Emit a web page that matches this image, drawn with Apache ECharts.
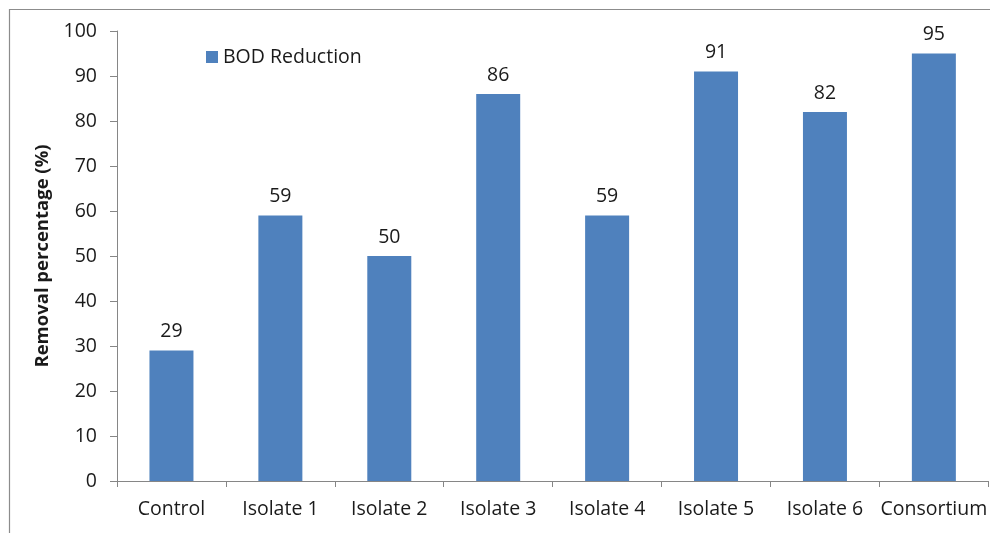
<!DOCTYPE html>
<html>
<head>
<meta charset="utf-8">
<script src="https://cdn.jsdelivr.net/npm/echarts@6/dist/echarts.min.js"></script>
<style>
  html, body { margin: 0; padding: 0; background: #fff; }
  #chart { width: 990px; height: 533px; }
</style>
</head>
<body>
<div id="chart"></div>
<script>
// Categories and BOD removal percentages
const categories = ['Control', 'Isolate 1', 'Isolate 2', 'Isolate 3', 'Isolate 4', 'Isolate 5', 'Isolate 6', 'Consortium'];
const bodReduction = [29, 59, 50, 86, 59, 91, 82, 95];
const seriesName = 'BOD Reduction';
const yAxisTitle = 'Removal percentage (%)';

const FONT = '"Open Sans", Lato, sans-serif';
const TEXT = '#1a1a1a';
const AXIS = '#868686';
const SIZE = 19.5;

const chart = echarts.init(document.getElementById('chart'), null, { renderer: 'canvas' });

chart.setOption({
  animation: false,
  backgroundColor: '#ffffff',
  textStyle: { fontFamily: FONT },
  graphic: [
    {
      type: 'rect',
      silent: true,
      shape: { x: 9.5, y: 9.5, width: 1000, height: 540 },
      style: { fill: 'none', stroke: '#8c8c8c', lineWidth: 1.2 }
    }
  ],
  legend: {
    data: [seriesName],
    left: 201,
    top: 42,
    itemWidth: 12,
    itemHeight: 12,
    itemGap: 6,
    icon: 'rect',
    textStyle: { fontFamily: FONT, fontSize: SIZE, color: TEXT }
  },
  grid: { left: 117, top: 31, width: 876, height: 450, containLabel: false },
  xAxis: {
    type: 'category',
    data: categories,
    axisLine: { lineStyle: { color: AXIS, width: 1 } },
    axisTick: { show: true, alignWithLabel: false, length: 6, lineStyle: { color: AXIS } },
    axisLabel: { color: TEXT, fontFamily: FONT, fontSize: SIZE, margin: 18, interval: 0 }
  },
  yAxis: {
    type: 'value',
    min: 0,
    max: 100,
    interval: 10,
    name: yAxisTitle,
    nameLocation: 'middle',
    nameGap: 59,
    nameTextStyle: { color: TEXT, fontFamily: FONT, fontSize: 18.5, fontWeight: 'bold' },
    axisLine: { show: true, lineStyle: { color: AXIS, width: 1 } },
    axisTick: { show: true, length: 7, lineStyle: { color: AXIS } },
    splitLine: { show: false },
    axisLabel: { color: TEXT, fontFamily: FONT, fontSize: SIZE, margin: 20 }
  },
  series: [
    {
      name: seriesName,
      type: 'bar',
      data: bodReduction,
      barWidth: 44,
      itemStyle: { color: '#4f81bd' },
      label: {
        show: true,
        position: 'top',
        distance: 9,
        color: TEXT,
        fontFamily: FONT,
        fontSize: SIZE
      }
    }
  ]
});
</script>
</body>
</html>
